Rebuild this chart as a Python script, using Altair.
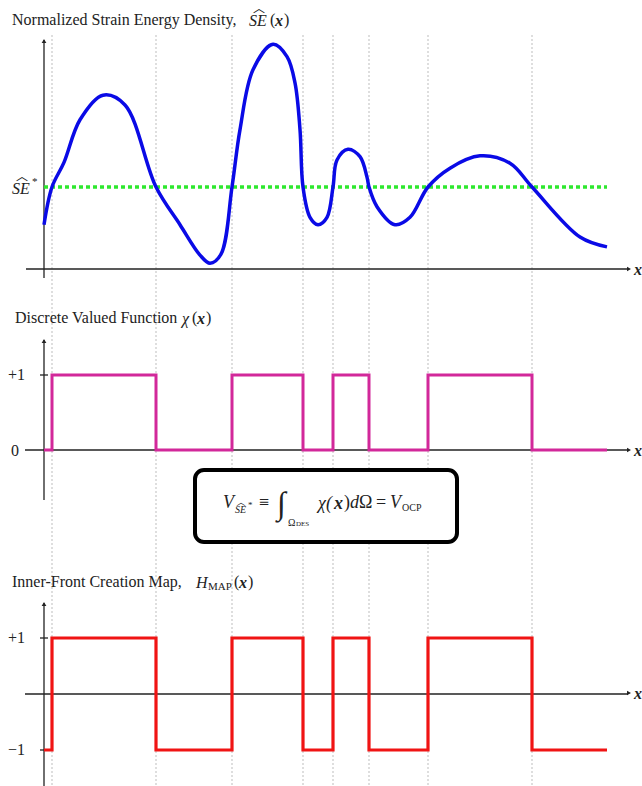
import altair as alt
import pandas as pd

# ---------------- data ----------------
# abscissa positions (schematic units)
se_x = [44, 52, 64, 80, 103, 125, 156, 180, 200, 210, 221, 232, 240, 253, 273, 287,
        295, 300, 303, 310, 318, 327, 333, 337, 348, 360, 367, 369, 377, 395, 410, 428,
        450, 480, 510, 532, 580, 607]
# normalized strain energy density (SE* = 1)
se_val = [0.54, 1.00, 1.30, 1.82, 2.12, 2.00, 1.00, 0.54, 0.17, 0.07, 0.18, 1.00,
          1.70, 2.43, 2.74, 2.59, 2.27, 1.70, 1.00, 0.63, 0.54, 0.63, 1.00, 1.33, 1.46,
          1.37, 1.12, 1.00, 0.76, 0.54, 0.63, 1.00, 1.23, 1.38, 1.29, 1.00, 0.39, 0.27]
se_star = [1.0]
se_star_span = [44, 607]

# step functions
step_x = [44, 52, 156, 232, 303, 333, 369, 428, 532, 607]
chi_val = [0, 1, 0, 1, 0, 1, 0, 1, 0, 0]
h_val = [-1, 1, -1, 1, -1, 1, -1, 1, -1, -1]

# dotted vertical guide lines at the level-set crossings
grid_x = [52, 156, 232, 303, 333, 369, 428, 532]

chi_ticks = [0, 1]
h_ticks = [-1, 1]

# ---------------- styles ----------------
SERIF = "Liberation Serif"
INK = "#222222"
BLUE = "#0a0ae6"
GREEN = "#2ee82e"
MAGENTA = "#d2289a"
RED = "#f01414"

XS = alt.Scale(domain=[0, 642], nice=False, zero=False)
Y1 = alt.Scale(domain=[0, 1], range=[269, 187], nice=False, zero=False)
Y2 = alt.Scale(domain=[0, 1], range=[450, 375], nice=False, zero=False)
Y3 = alt.Scale(domain=[-1, 1], range=[750, 638], nice=False, zero=False)

one = pd.DataFrame({"k": [0]})
se_df = pd.DataFrame({"x": se_x, "v": se_val})
step_df = pd.DataFrame({"x": step_x, "chi": chi_val, "h": h_val})
grid_df = pd.DataFrame({"x": grid_x})
star_df = pd.DataFrame({"x": [se_star_span[0]], "x2": [se_star_span[1]], "v": se_star})


def txt(s, x, y, size=16, style="normal", weight="normal", align="left",
        font=SERIF, color=INK, baseline="middle"):
    return alt.Chart(one).mark_text(
        text=s, font=font, fontSize=size, fontStyle=style, fontWeight=weight,
        align=align, baseline=baseline, color=color
    ).encode(x=alt.value(x), y=alt.value(y))


def hat(x, y, size=12):
    return txt("\ufe3f", x, y, size=size, align="center", font="Noto Sans CJK SC")


def hline(x1, x2, ydatum, scale):
    return alt.Chart(one).mark_rule(color=INK, strokeWidth=1.3).encode(
        x=alt.value(x1), x2=alt.value(x2), y=alt.Y(datum=ydatum, scale=scale, axis=None))


def vline(x, y1, y2):
    return alt.Chart(one).mark_rule(color=INK, strokeWidth=1.3).encode(
        x=alt.value(x), y=alt.value(y1), y2=alt.value(y2))


def arrow(x, y, shape):
    return alt.Chart(one).mark_point(shape=shape, filled=True, color=INK, size=22, opacity=1).encode(
        x=alt.value(x), y=alt.value(y))


layers = []

# guide lines
layers.append(alt.Chart(grid_df).mark_rule(color="#bdbdbd", strokeWidth=1, strokeDash=[2, 2]).encode(
    x=alt.X("x:Q", scale=XS, axis=None), y=alt.value(35), y2=alt.value(786)))

# formula box
layers.append(alt.Chart(one).mark_rect(fill="white", stroke="black", strokeWidth=4, cornerRadius=9).encode(
    x=alt.value(195), x2=alt.value(457), y=alt.value(470), y2=alt.value(542)))

# ---- panel 1 axes ----
layers += [vline(44, 40, 278), arrow(44, 41, "triangle-up"),
           hline(26, 628, 0, Y1), arrow(629, 269, "triangle-right")]
# ---- panel 2 axes ----
layers += [vline(44, 340, 500), arrow(44, 341, "triangle-up"),
           hline(25, 628, 0, Y2), arrow(629, 450, "triangle-right")]
layers.append(alt.Chart(pd.DataFrame({"t": chi_ticks[1:]})).mark_rule(color=INK, strokeWidth=1.3).encode(
    x=alt.value(40), x2=alt.value(48), y=alt.Y("t:Q", scale=Y2, axis=None)))
# ---- panel 3 axes ----
layers += [vline(44, 603, 786), arrow(44, 604, "triangle-up"),
           hline(25, 628, 0, Y3), arrow(629, 693, "triangle-right")]
layers.append(alt.Chart(pd.DataFrame({"t": h_ticks})).mark_rule(color=INK, strokeWidth=1.3).encode(
    x=alt.value(40), x2=alt.value(48), y=alt.Y("t:Q", scale=Y3, axis=None)))

# threshold SE*
layers.append(alt.Chart(star_df).mark_rule(color=GREEN, strokeWidth=3.5, strokeDash=[4, 3]).encode(
    x=alt.X("x:Q", scale=XS, axis=None), x2="x2:Q", y=alt.Y("v:Q", scale=Y1, axis=None)))

# SE curve
layers.append(alt.Chart(se_df).mark_line(color=BLUE, strokeWidth=3.5, interpolate="catmull-rom").encode(
    x=alt.X("x:Q", scale=XS, axis=None), y=alt.Y("v:Q", scale=Y1, axis=None)))

# chi step
layers.append(alt.Chart(step_df).mark_line(color=MAGENTA, strokeWidth=3, interpolate="step-after").encode(
    x=alt.X("x:Q", scale=XS, axis=None), y=alt.Y("chi:Q", scale=Y2, axis=None)))

# H step
layers.append(alt.Chart(step_df).mark_line(color=RED, strokeWidth=3.2, interpolate="step-after").encode(
    x=alt.X("x:Q", scale=XS, axis=None), y=alt.Y("h:Q", scale=Y3, axis=None)))

# ---------------- texts ----------------
# title 1
layers += [txt("Normalized Strain Energy Density,", 12, 20),
           txt("SE", 249, 21, style="italic"), hat(259, 9),
           txt("(", 270, 20), txt("x", 275, 21, style="italic", weight="bold"), txt(")", 284, 20)]
# SE* label
layers += [txt("SE", 12, 189, style="italic"), hat(22, 177),
           txt("*", 32, 182, size=11)]
# title 2
layers += [txt("Discrete Valued Function", 15, 318),
           txt("\u03c7", 182, 319, style="italic"), txt("(", 192, 318),
           txt("x", 197, 319, style="italic", weight="bold"), txt(")", 206, 318)]
# title 3
layers += [txt("Inner-Front Creation Map,", 12, 582),
           txt("H", 196, 583, style="italic"), txt("MAP", 208, 587, size=11),
           txt("(", 234, 582), txt("x", 239, 583, style="italic", weight="bold"), txt(")", 248, 582)]
# tick labels
layers += [txt("+1", 25, 375, align="right"), txt("0", 19, 451, align="right"),
           txt("+1", 25, 638, align="right"), txt("\u22121", 25, 750, align="right")]
# x axis labels
for yy in (269, 450, 693):
    layers.append(txt("x", 634, yy + 1, style="italic", weight="bold"))

# formula
layers += [txt("V", 223, 503, size=18, style="italic"),
           txt("SE", 235, 510, size=10, style="italic"), hat(241, 502, size=9),
           txt("*", 248, 505, size=9),
           txt("\u2261", 259, 503, size=18),
           txt("\u222b", 277, 504, size=32, style="italic"),
           txt("\u03a9", 288, 523, size=10), txt("DES", 296, 524, size=7),
           txt("\u03c7(", 318, 504, size=18, style="italic"),
           txt("x", 334, 504, size=18, style="italic", weight="bold"),
           txt(")", 344, 503, size=18),
           txt("d", 350, 503, size=18, style="italic"),
           txt("\u03a9", 359, 503, size=18),
           txt("=", 376, 503, size=18),
           txt("V", 390, 503, size=18, style="italic"),
           txt("OCP", 402, 508, size=10)]

chart = alt.layer(*layers).resolve_scale(y="independent").properties(
    width=642, height=786, padding=0, autosize="none", background="white"
).configure_view(stroke=None)

chart.save("out.html", embed_options={"renderer": "svg", "actions": False})
